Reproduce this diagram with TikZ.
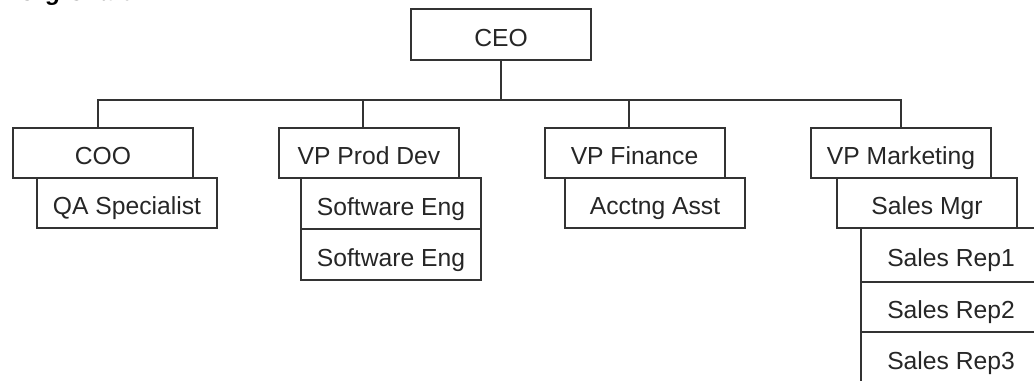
\documentclass[tikz,border=0pt]{standalone}
\usepackage{fontspec}
\setmainfont{Liberation Sans}
\begin{document}
\begin{tikzpicture}[x=0.75pt,y=-0.75pt,
  ln/.style={draw=black!80,line width=1.5pt},
  box/.style={ln,fill=white,rectangle,inner sep=0pt,minimum width=135pt,minimum height=37.5pt,text height=20pt,text depth=1.6pt,font=\fontsize{18.5}{20}\selectfont,text=black!85},
  tall/.style={minimum height=38.3pt}]
\useasboundingbox (0,0) rectangle (1034,380);
\clip (0,0) rectangle (1034,380);
\fill[white] (0,0) rectangle (1034,380);
\node[anchor=base west,font=\fontsize{18}{20}\selectfont\bfseries\itshape] (title) at (14,0) {Org Chart};
% connectors
\coordinate (b1) at (98.3,99.5);
\coordinate (b2) at (362.7,99.5);
\coordinate (b3) at (628.7,99.5);
\coordinate (b4) at (900.7,99.5);
% boxes
\node[box,tall] (ceo) at (501,34.5) {CEO};
\node[box] (coo) at (103,152.6) {COO};
\node[box] (qa) at (127,202.7) {QA Specialist};
\node[box] (vppd) at (369,152.6) {VP Prod Dev};
\node[box,tall] (se1) at (391,203.2) {Software Eng};
\node[box,tall] (se2) at (391,254.3) {Software Eng};
\node[box] (vpf) at (634.5,152.6) {VP Finance};
\node[box] (aa) at (655,202.7) {Acctng Asst};
\node[box] (vpm) at (901,152.6) {VP Marketing};
\node[box] (sm) at (927,202.7) {Sales Mgr};
\node[box,minimum height=40.5pt] (sr1) at (951,254.7) {Sales Rep1};
\node[box] (sr2) at (951,306.7) {Sales Rep2};
\node[box] (sr3) at (951,357) {Sales Rep3};
\draw[ln] (ceo.south) -- (ceo.south |- b1);
\draw[ln,line cap=rect] (b1) -- (b4);
\draw[ln] (b1) -- (b1 |- coo.north);
\draw[ln] (b2) -- (b2 |- vppd.north);
\draw[ln] (b3) -- (b3 |- vpf.north);
\draw[ln] (b4) -- (b4 |- vpm.north);
\end{tikzpicture}
\end{document}
